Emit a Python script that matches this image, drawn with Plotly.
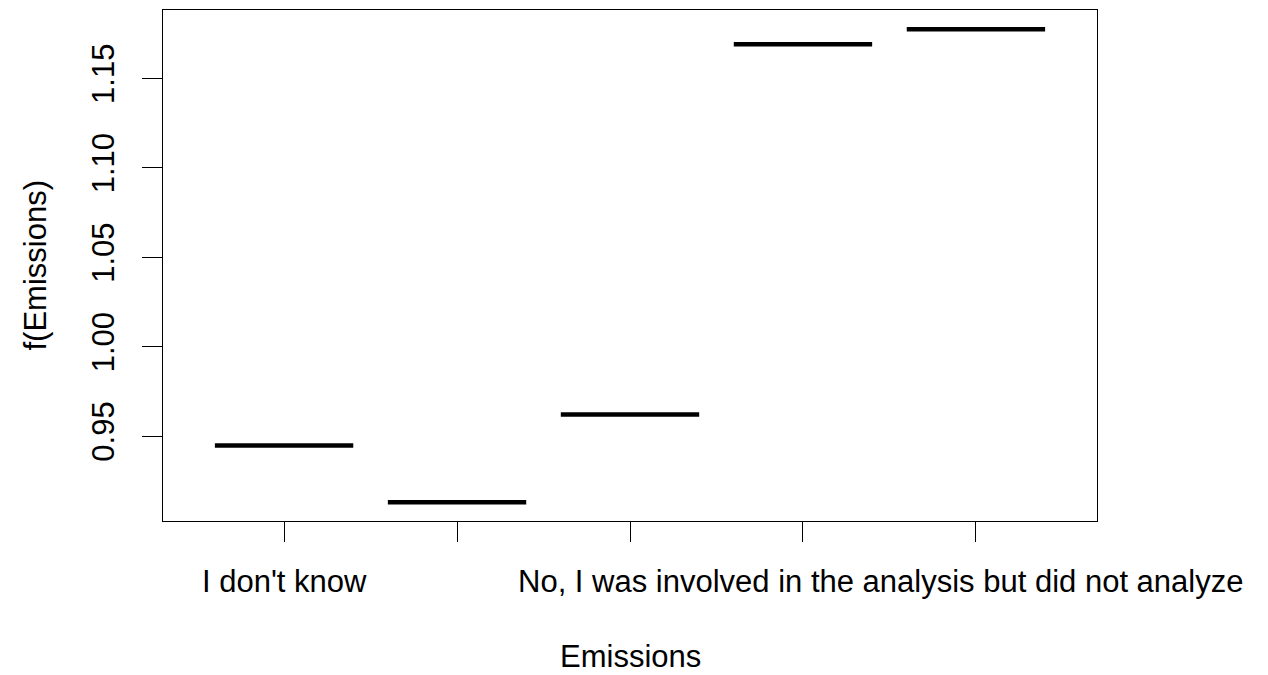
import plotly.graph_objects as go

# Data
positions = [1, 2, 3, 4, 5]
effects = [0.9448, 0.9131, 0.9621, 1.1690, 1.1774]
# Category labels that are visible in the reference and where their text is centred
label_texts = ["I don't know", "No, I was involved in the analysis but did not analyze"]
label_centres = [1.0, 4.448]
y_ticks = [0.95, 1.00, 1.05, 1.10, 1.15]
y_tick_text = ["0.95", "1.00", "1.05", "1.10", "1.15"]
half_width = 0.4

xs, ys = [], []
for p, v in zip(positions, effects):
    xs += [p - half_width, p + half_width, None]
    ys += [v, v, None]

FONT = "Liberation Sans, Arial, Helvetica, sans-serif"
FS = 31

fig = go.Figure()
fig.add_trace(go.Scatter(x=xs, y=ys, mode="lines",
                         line=dict(color="black", width=4.5),
                         showlegend=False, hoverinfo="skip"))

annotations = [
    dict(text="Emissions", xref="paper", yref="paper", x=0.5, y=0,
         xanchor="center", yanchor="middle", yshift=-135, showarrow=False,
         font=dict(family=FONT, size=FS)),
    dict(text="f(Emissions)", xref="paper", yref="paper", x=0, y=0.5,
         xanchor="center", yanchor="middle", xshift=-128, textangle=-90,
         showarrow=False, font=dict(family=FONT, size=FS)),
]
for t, c in zip(label_texts, label_centres):
    annotations.append(dict(text=t, xref="x", yref="paper", x=c, y=0,
                            xanchor="center", yanchor="middle", yshift=-60,
                            showarrow=False, font=dict(family=FONT, size=FS)))

fig.update_layout(
    width=1268, height=675,
    margin=dict(l=163, r=171, t=10, b=154),
    paper_bgcolor="white", plot_bgcolor="white",
    font=dict(family=FONT, size=FS, color="black"),
    xaxis=dict(range=[0.3, 5.7], tickmode="array", tickvals=positions,
               ticktext=[""] * len(positions), ticks="outside", ticklen=20, tickwidth=1,
               tickcolor="black", showline=True, linecolor="black", linewidth=1,
               mirror=True, showgrid=False, zeroline=False),
    yaxis=dict(range=[0.9026, 1.1882], tickmode="array", tickvals=y_ticks,
               ticktext=y_tick_text, ticks="outside", ticklen=20, tickwidth=1,
               tickcolor="black", showline=True, linecolor="black", linewidth=1,
               mirror=True, showgrid=False, zeroline=False, tickangle=-90,
               ticklabelstandoff=16),
    annotations=annotations,
)

fig.write_html("out.html")
